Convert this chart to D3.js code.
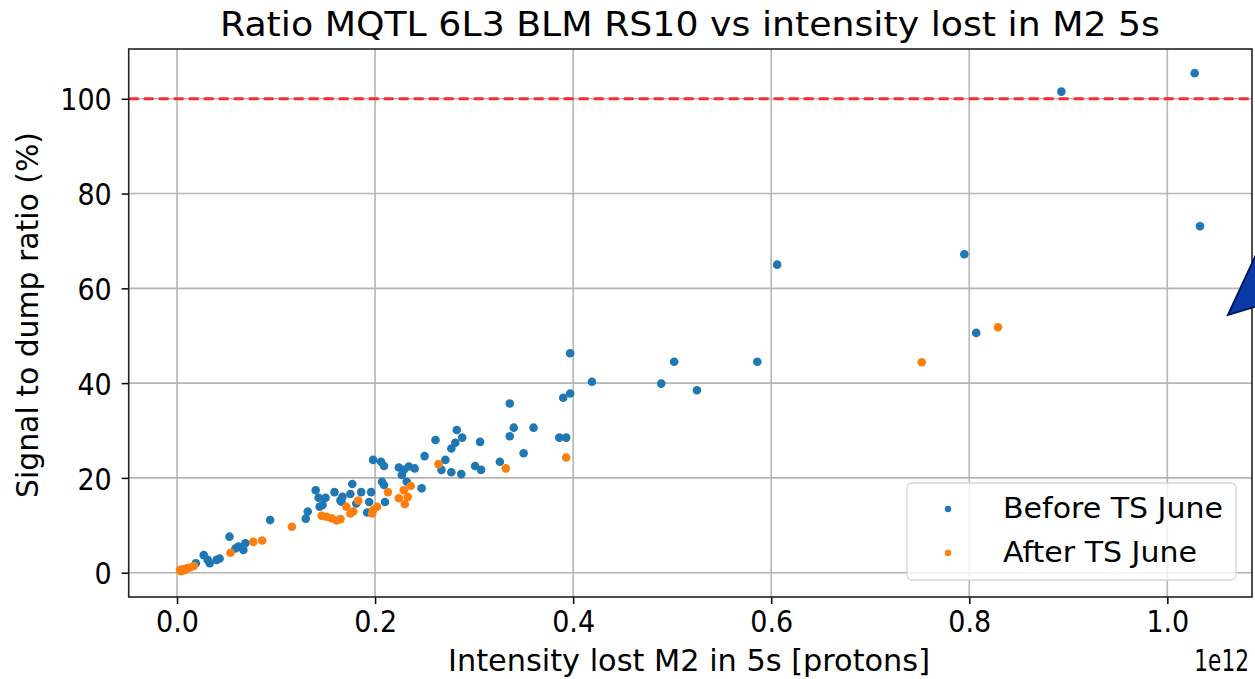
<!DOCTYPE html>
<html>
<head>
<meta charset="utf-8">
<script src="https://cdn.jsdelivr.net/npm/d3@7"></script>
<style>
  body { margin: 0; background: #fff; }
  text { font-family: "DejaVu Sans", sans-serif; fill: #000; }
</style>
</head>
<body>
<script>
// chart values (intensity in units of 1e12 protons, ratio in %)
var beforeX = [0.019, 0.027, 0.031, 0.033, 0.040, 0.043, 0.053, 0.059, 0.062, 0.067, 0.069,
  0.094, 0.130, 0.132, 0.140, 0.143, 0.144, 0.147, 0.150, 0.159, 0.165, 0.167, 0.166,
  0.175, 0.177, 0.181, 0.186, 0.192, 0.194, 0.196, 0.198, 0.206, 0.209, 0.207, 0.209,
  0.210, 0.224, 0.227, 0.229, 0.234, 0.240, 0.232, 0.247, 0.250, 0.261, 0.267, 0.271,
  0.277, 0.277, 0.281, 0.2825, 0.288, 0.287, 0.301, 0.306, 0.307, 0.326, 0.336, 0.336,
  0.340, 0.350, 0.360, 0.386, 0.393, 0.390, 0.397, 0.397, 0.419, 0.489, 0.502, 0.525,
  0.586, 0.606, 0.795, 0.807, 0.893, 1.0276, 1.033];
var beforeY = [2.0, 3.7, 2.7, 2.0, 2.7, 3.0, 7.6, 5.1, 5.5, 4.8, 6.2,
  11.1, 11.4, 12.9, 17.4, 15.8, 13.9, 14.3, 15.8, 17.0, 15.3, 16.0, 15.0,
  16.6, 18.7, 14.6, 17.0, 12.7, 14.9, 17.0, 23.8, 23.4, 22.5, 19.2, 18.5,
  14.9, 22.2, 20.6, 21.7, 22.4, 22.0, 19.2, 17.8, 24.6, 28.0, 21.7, 23.8,
  21.2, 26.2, 27.4, 30.1, 28.5, 20.8, 22.5, 27.6, 21.7, 23.4, 35.7, 28.8,
  30.6, 25.2, 30.6, 28.5, 28.5, 36.9, 37.8, 46.3, 40.3, 39.9, 44.5, 38.5,
  44.5, 65.0, 67.2, 50.6, 101.5, 105.4, 73.1];

var afterX = [0.003, 0.004, 0.006, 0.008, 0.010, 0.013, 0.017, 0.054, 0.077, 0.086, 0.116,
  0.146, 0.151, 0.156, 0.161, 0.165, 0.171, 0.175, 0.178, 0.183, 0.197, 0.198, 0.202,
  0.213, 0.224, 0.229, 0.230, 0.233, 0.236, 0.264, 0.332, 0.393, 0.752, 0.829];
var afterY = [0.6, 0.3, 0.7, 0.5, 0.9, 1.1, 1.4, 4.2, 6.5, 6.8, 9.7,
  12.0, 11.8, 11.5, 11.0, 11.3, 13.9, 12.5, 12.9, 15.2, 12.5, 13.2, 13.9,
  17.0, 15.7, 17.4, 14.5, 16.0, 18.3, 22.9, 22.0, 24.3, 44.4, 51.8];

var xTicks = [0.0, 0.2, 0.4, 0.6, 0.8, 1.0];
var yTicks = [0, 20, 40, 60, 80, 100];
var threshold = 100;

var seriesNames = ["Before TS June", "After TS June"];
var seriesColors = ["#1f77b4", "#ff7f0e"];

var svgWidth = 1255, svgHeight = 679;
var plot = { left: 128.7, right: 1252, top: 49, bottom: 597 };
var sx = 0.87; // tick text in the picture is squeezed horizontally

var svg = d3.select("body").append("svg")
  .attr("width", svgWidth)
  .attr("height", svgHeight);

var x = d3.scaleLinear().domain([-0.0488, 1.0855]).range([plot.left, plot.right]);
var y = d3.scaleLinear().domain([-5.13, 110.5]).range([plot.bottom, plot.top]);

// grid
var grid = svg.append("g");
grid.selectAll(".gx").data(xTicks).enter().append("line")
  .attr("x1", d => x(d)).attr("x2", d => x(d))
  .attr("y1", plot.top).attr("y2", plot.bottom)
  .attr("stroke", "#b5b5b5").attr("stroke-width", 1.6);
grid.selectAll(".gy").data(yTicks).enter().append("line")
  .attr("x1", plot.left).attr("x2", plot.right)
  .attr("y1", d => y(d)).attr("y2", d => y(d))
  .attr("stroke", "#b5b5b5").attr("stroke-width", 1.6);

// axes
var bottomAxis = d3.axisBottom(x).tickValues(xTicks).tickFormat(d3.format(".1f")).tickSizeOuter(0).tickSize(7).tickPadding(6);
var leftAxis = d3.axisLeft(y).tickValues(yTicks).tickSizeOuter(0).tickSize(7).tickPadding(10);

var gx = svg.append("g").attr("transform", `translate(0, ${plot.bottom})`).call(bottomAxis);
var gy = svg.append("g").attr("transform", `translate(${plot.left}, 0)`).call(leftAxis);
[gx, gy].forEach(function(g) {
  g.select(".domain").remove();
  g.selectAll(".tick line").attr("stroke", "#000").attr("stroke-width", 1.5);
  g.selectAll(".tick text").style("font-size", "31px").style("font-family", "DejaVu Sans").attr("fill", "#222");
});
gx.selectAll(".tick text").attr("transform", `scale(${sx},1)`);
gy.selectAll(".tick text").attr("x", -17 / sx).attr("dy", "0.36em").attr("transform", `scale(${sx},1)`);

// threshold line
svg.append("line")
  .attr("x1", plot.left).attr("x2", plot.right)
  .attr("y1", y(threshold)).attr("y2", y(threshold))
  .attr("stroke", "#ff2a2a").attr("stroke-width", 3)
  .attr("stroke-dasharray", "10,5");

// points
var seriesX = [beforeX, afterX], seriesY = [beforeY, afterY];
seriesX.forEach(function(xs, i) {
  svg.append("g").selectAll("circle")
    .data(xs.map((v, k) => [v, seriesY[i][k]]))
    .enter().append("circle")
    .attr("cx", d => x(d[0]))
    .attr("cy", d => y(d[1]))
    .attr("r", 4.3)
    .style("fill", seriesColors[i]);
});

// frame
svg.append("rect")
  .attr("x", plot.left).attr("y", plot.top)
  .attr("width", plot.right - plot.left).attr("height", plot.bottom - plot.top)
  .attr("fill", "none").attr("stroke", "#222").attr("stroke-width", 1.6);

// text with a fixed drawn width
function label(txt, tx, ty, size, anchor, len, rot) {
  svg.append("text")
    .attr("transform", `translate(${tx},${ty})` + (rot ? ` rotate(${rot})` : ""))
    .attr("text-anchor", anchor)
    .attr("textLength", len)
    .attr("lengthAdjust", "spacingAndGlyphs")
    .style("font-size", size + "px")
    .attr("fill", "#222")
    .text(txt);
}

// legend
var legend = svg.append("g");
legend.append("rect")
  .attr("x", 907).attr("y", 483).attr("width", 329).attr("height", 97)
  .attr("rx", 5)
  .attr("fill", "#fff").attr("fill-opacity", 0.8)
  .attr("stroke", "#d6d6d6").attr("stroke-width", 1.3);
var legendLen = [220, 194];
seriesNames.forEach(function(name, i) {
  legend.append("circle")
    .attr("cx", 948).attr("cy", 509 + i * 44).attr("r", 3.2)
    .style("fill", seriesColors[i]);
  label(name, 1003, 518 + i * 44, 28, "start", legendLen[i]);
});

// titles
label("Ratio MQTL 6L3 BLM RS10 vs intensity lost in M2 5s", 690, 36, 33, "middle", 940);
label("Intensity lost M2 in 5s [protons]", 689, 671, 31, "middle", 482);
label("Signal to dump ratio (%)", 38, 315, 30, "middle", 366, -90);

// offset text of the x axis
svg.append("text")
  .attr("transform", "translate(1249,671) scale(0.7,1)")
  .attr("text-anchor", "end")
  .style("font-size", "31px")
  .attr("fill", "#222")
  .text("1e12");

// annotation arrow head entering from the right edge
svg.append("polygon")
  .attr("points", "1228,315 1275,214 1290,296")
  .attr("fill", "#0b3aa6")
  .attr("stroke", "#001a5a")
  .attr("stroke-width", 2);
</script>
</body>
</html>
